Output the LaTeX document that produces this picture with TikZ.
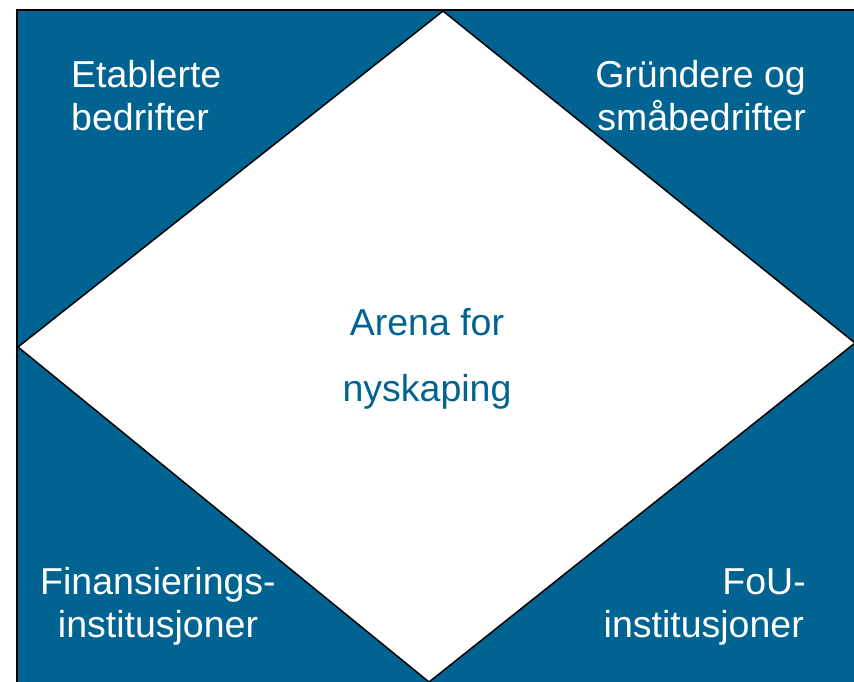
\documentclass[tikz,border=0pt]{standalone}
\usepackage{fontspec}
\setmainfont{Liberation Sans}
\definecolor{myblue}{RGB}{0,99,145}
\begin{document}
\begin{tikzpicture}[x=1pt,y=-1pt,
  corner/.style={text=white,inner sep=0pt,font=\fontsize{37.5}{45}\selectfont},
  centertext/.style={text=myblue,inner sep=0pt,font=\fontsize{37.5}{45}\selectfont}]
\useasboundingbox (0,0) rectangle (854,681);
\fill[white] (0,0) rectangle (854,681);
\draw[line width=2pt,fill=myblue] (17,10) rectangle (870,700);
\draw[line width=1.5pt,fill=white] (443,11) -- (855,343) -- (429,682) -- (18,347) -- cycle;
\node[corner,anchor=base west] (e1) at (71,87) {Etablerte};
\node[corner,anchor=base west] (e2) at (71,130) {bedrifter};
\node[corner,anchor=base east] (g1) at (806,87) {Gründere og};
\node[corner,anchor=base east] (g2) at (806,130) {småbedrifter};
\node[corner,anchor=base] (f1) at (158,594) {Finansierings-};
\node[corner,anchor=base] (f2) at (158,637) {institusjoner};
\node[corner,anchor=base east] (u1) at (806,594) {FoU-};
\node[corner,anchor=base east] (u2) at (804,637) {institusjoner};
\node[centertext,anchor=base] (a1) at (427,335) {Arena for};
\node[centertext,anchor=base] (a2) at (427,401) {nyskaping};
\end{tikzpicture}
\end{document}
